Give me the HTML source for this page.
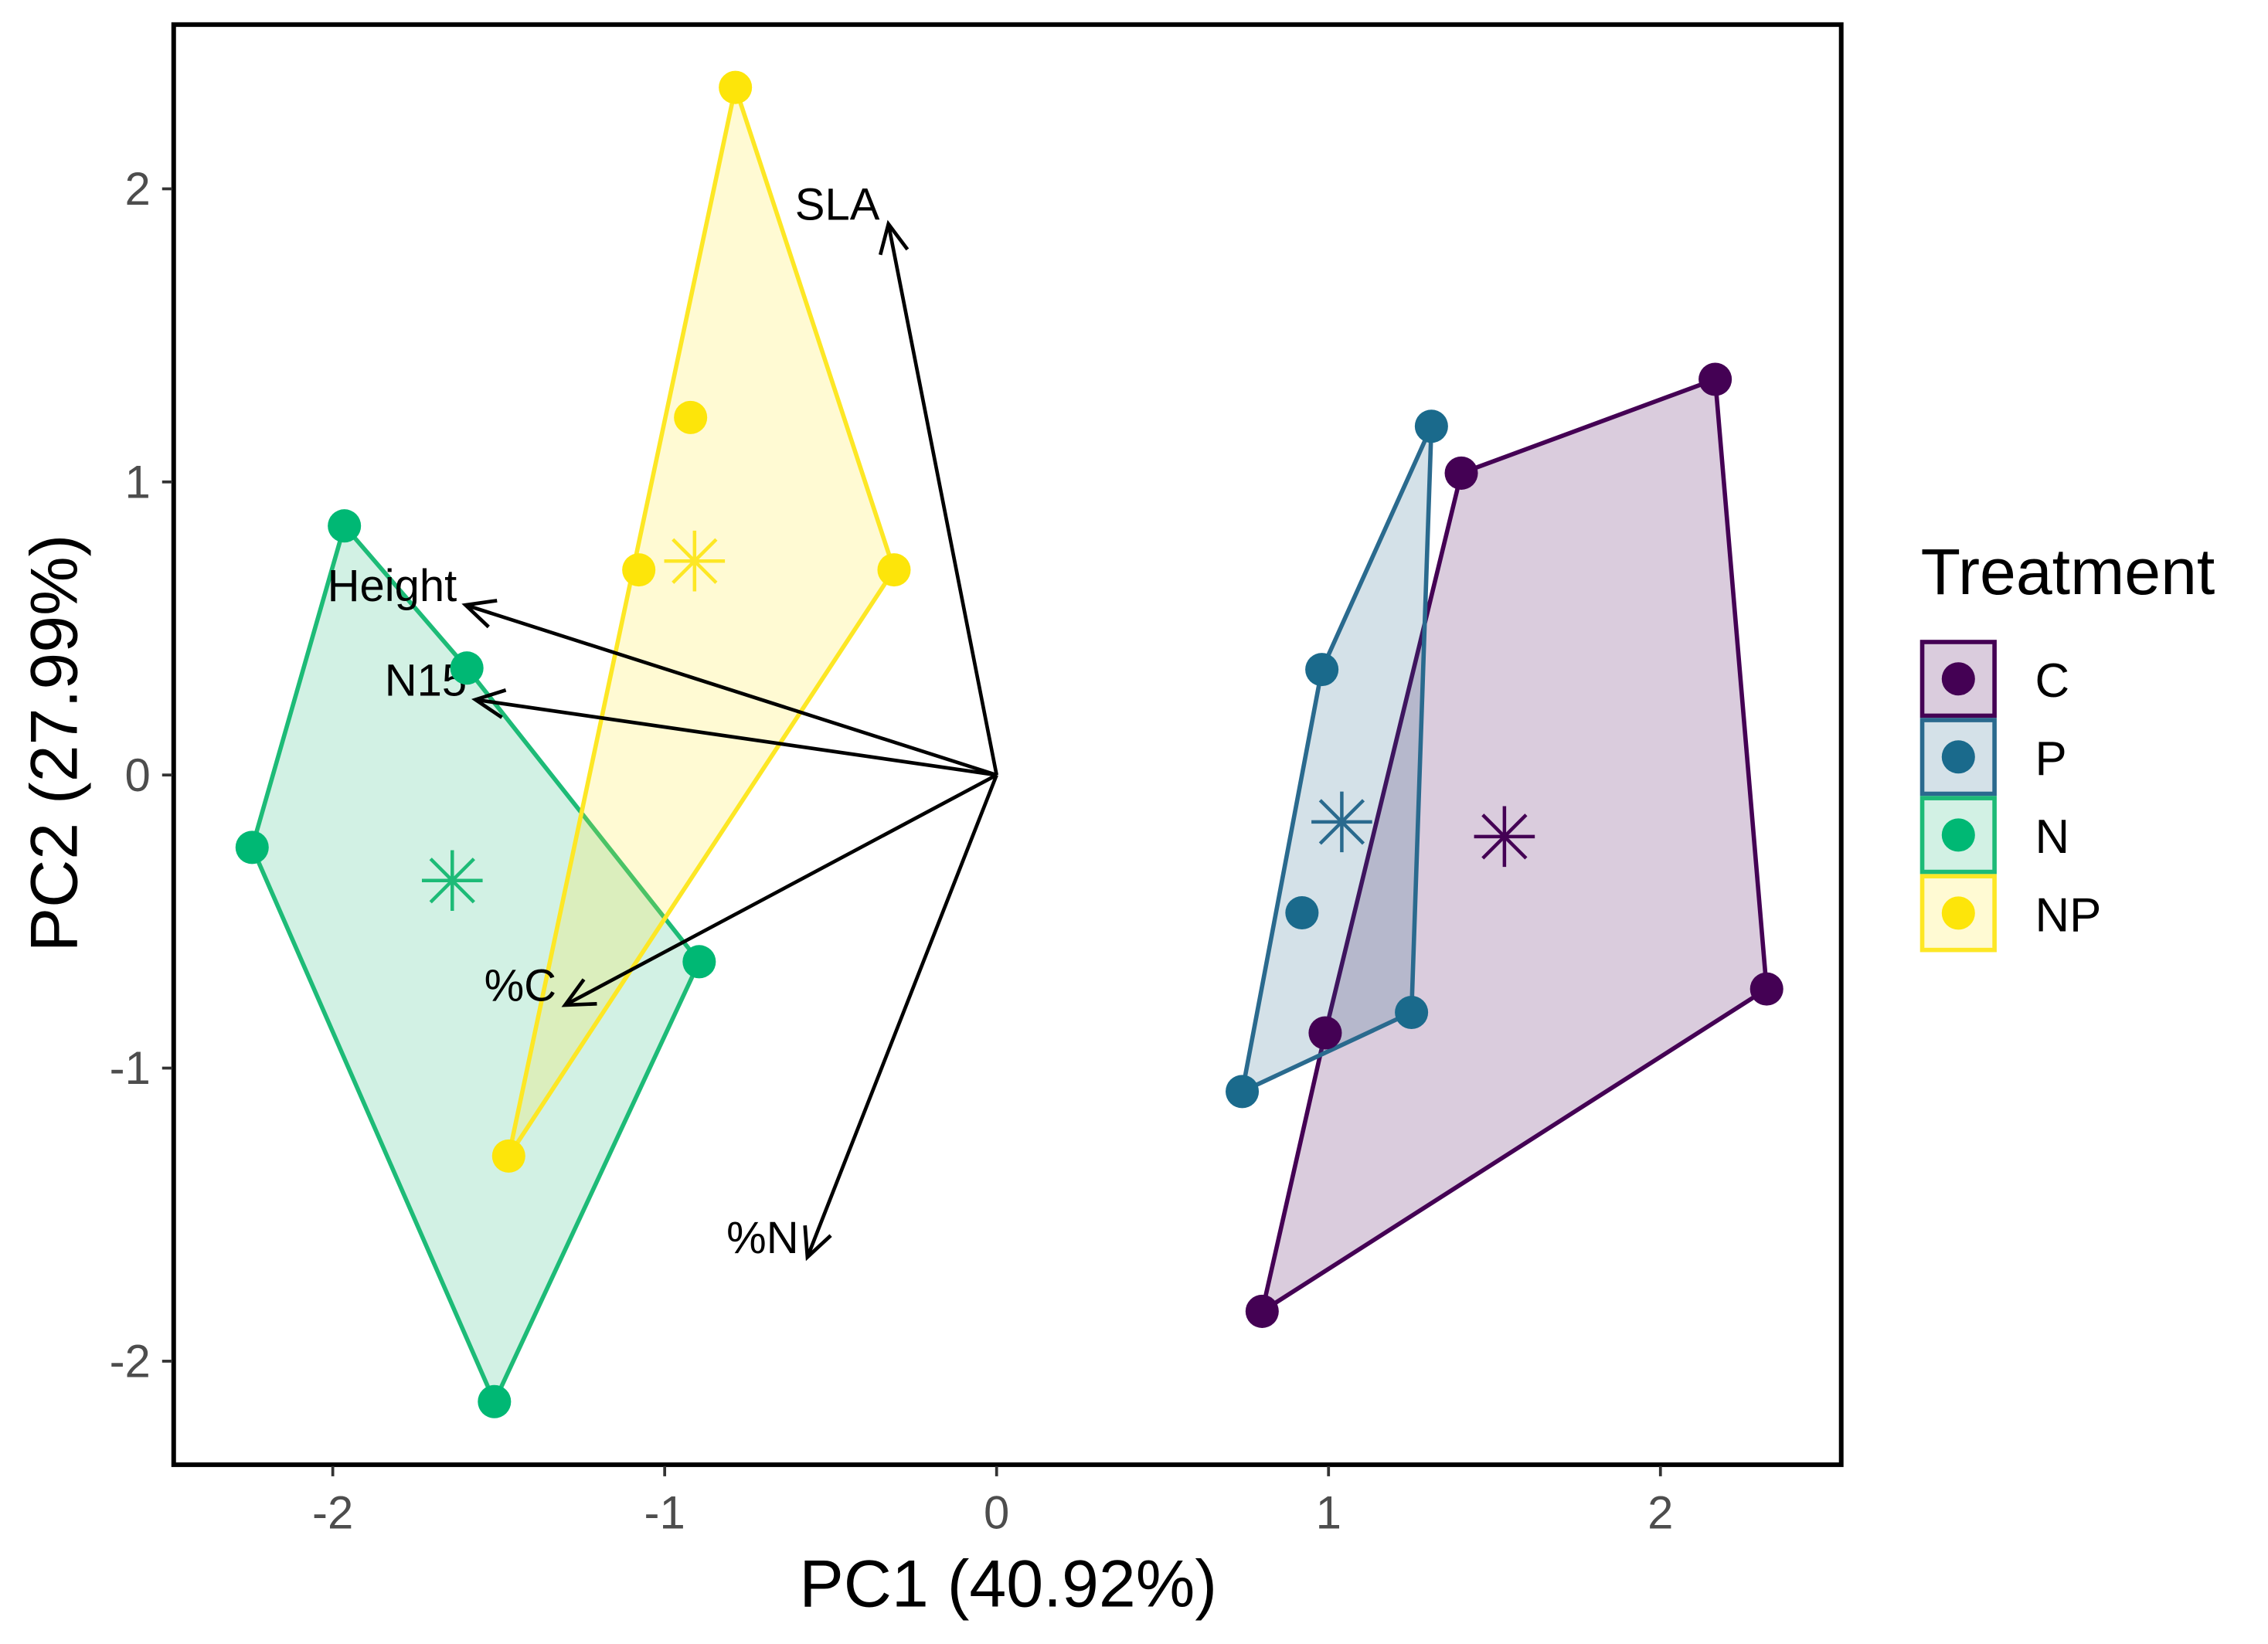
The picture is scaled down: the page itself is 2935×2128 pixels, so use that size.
<!DOCTYPE html>
<html><head><meta charset="utf-8"><style>
html,body{margin:0;padding:0;background:#fff;}
svg{display:block;}
text{font-family:"Liberation Sans",sans-serif;}
</style></head><body>
<svg id="chart" width="2935" height="2128" viewBox="0 0 1568 1137" xmlns="http://www.w3.org/2000/svg">
<rect x="0" y="0" width="1568" height="1137" fill="#fff"/>
<g id="hulls"></g>
<g id="arrows"></g>
<g id="points"></g>
<rect x="120" y="17" width="1153" height="996" fill="none" stroke="#000" stroke-width="3.2"/>
<g id="axes"></g>
<text x="697" y="1111" font-size="46" text-anchor="middle" fill="#000">PC1 (40.92%)</text>
<text transform="translate(53,514) rotate(-90)" font-size="46" text-anchor="middle" fill="#000">PC2 (27.99%)</text>
<g id="legend"></g>
</svg>
<script>
const groups = ["C","P","N","NP"];
const colors = ["#440154","#2A6A8E","#1DBB77","#FDE725"];
const ptColors = ["#440154","#1A6A8C","#00B874","#FDE50A"];
const pcx = {
  C: [2.165, 1.40, 2.32, 0.80, 0.99],
  P: [1.31, 0.98, 0.92, 1.25, 0.74],
  N: [-1.965, -1.596, -2.243, -0.896, -1.513],
  NP: [-0.787, -0.922, -1.078, -0.309, -1.47]
};
const pcy = {
  C: [1.35, 1.03, -0.73, -1.83, -0.88],
  P: [1.19, 0.36, -0.47, -0.81, -1.08],
  N: [0.85, 0.365, -0.247, -0.637, -2.138],
  NP: [2.346, 1.22, 0.70, 0.70, -1.30]
};
const centX = [1.53, 1.04, -1.64, -0.91];
const centY = [-0.21, -0.16, -0.36, 0.73];
const loadNames = ["SLA","Height","N15","%C","%N"];
const loadX = [-0.326, -1.60, -1.57, -1.30, -0.57];
const loadY = [1.88, 0.58, 0.257, -0.785, -1.645];
const xTicks = [-2,-1,0,1,2];
const yTicks = [-2,-1,0,1,2];

const X = v => 689 + 229.5*v;
const Y = v => 536 - 202.7*v;
const NS = "http://www.w3.org/2000/svg";
function mk(tag, attrs, parent){const e=document.createElementNS(NS,tag);for(const k in attrs)e.setAttribute(k,attrs[k]);parent.appendChild(e);return e;}

function hull(pts){
  pts = pts.slice().sort((a,b)=>a[0]-b[0]||a[1]-b[1]);
  const cr=(o,a,b)=>(a[0]-o[0])*(b[1]-o[1])-(a[1]-o[1])*(b[0]-o[0]);
  const lo=[],up=[];
  for(const p of pts){while(lo.length>=2&&cr(lo[lo.length-2],lo[lo.length-1],p)<=0)lo.pop();lo.push(p);}
  for(const p of pts.slice().reverse()){while(up.length>=2&&cr(up[up.length-2],up[up.length-1],p)<=0)up.pop();up.push(p);}
  return lo.slice(0,-1).concat(up.slice(0,-1));
}

const gH=document.getElementById('hulls'), gA=document.getElementById('arrows'), gP=document.getElementById('points');
groups.forEach((g,i)=>{
  const pts=pcx[g].map((v,j)=>[X(v),Y(pcy[g][j])]);
  const h=hull(pts);
  const poly=mk('polygon',{points:h.map(p=>p.join(',')).join(' '),fill:colors[i],'fill-opacity':0.2,stroke:colors[i],'stroke-width':3,'stroke-linejoin':'round'},gH);
  
  
});
loadNames.forEach((n,i)=>{
  const x0=X(0),y0=Y(0),x1=X(loadX[i]),y1=Y(loadY[i]);
  const ln=mk('line',{x1:x0,y1:y0,x2:x1,y2:y1,stroke:'#000','stroke-width':2.5},gA);
  
  
  const ang=Math.atan2(y1-y0,x1-x0), L=22, a=0.45;
  mk('polyline',{points:`${x1-L*Math.cos(ang-a)},${y1-L*Math.sin(ang-a)} ${x1},${y1} ${x1-L*Math.cos(ang+a)},${y1-L*Math.sin(ang+a)}`,fill:'none',stroke:'#000','stroke-width':2.5},gA);
  const t=mk('text',{x:x1-6,y:y1-11,'font-size':31,'text-anchor':'end','dominant-baseline':'middle',fill:'#000'},gA);
  t.textContent=n;
  
  
});
groups.forEach((g,i)=>{
  pcx[g].forEach((v,j)=>{
    const c=mk('circle',{cx:X(v),cy:Y(pcy[g][j]),r:11.5,fill:ptColors[i]},gP);
    
    
  });
  const cx=X(centX[i]), cy=Y(centY[i]), s=21, d=15;
  const st=mk('g',{stroke:colors[i],'stroke-width':2.4},gP);
  
  
  mk('line',{x1:cx-s,y1:cy,x2:cx+s,y2:cy},st);
  mk('line',{x1:cx,y1:cy-s,x2:cx,y2:cy+s},st);
  mk('line',{x1:cx-d,y1:cy-d,x2:cx+d,y2:cy+d},st);
  mk('line',{x1:cx-d,y1:cy+d,x2:cx+d,y2:cy-d},st);
});
const gX=document.getElementById('axes');
xTicks.forEach(v=>{
  mk('line',{x1:X(v),y1:1014,x2:X(v),y2:1021,stroke:'#333','stroke-width':2},gX);
  const t=mk('text',{x:X(v),y:1057,'font-size':32,'text-anchor':'middle',fill:'#4d4d4d'},gX);
  t.textContent=v;
  
  
});
yTicks.forEach(v=>{
  mk('line',{x1:112,y1:Y(v),x2:119,y2:Y(v),stroke:'#333','stroke-width':2},gX);
  const t=mk('text',{x:104,y:Y(v)+11,'font-size':32,'text-anchor':'end',fill:'#4d4d4d'},gX);
  t.textContent=v;
  
  
});
const gL=document.getElementById('legend');
const tt=mk('text',{x:1328,y:411,'font-size':45,fill:'#000'},gL);
tt.textContent='Treatment';


groups.forEach((g,i)=>{
  const y0=443+i*54;
  const e=mk('g',{},gL);
  
  
  mk('rect',{x:1329,y:y0+1,width:50,height:51,fill:colors[i],'fill-opacity':0.2,stroke:colors[i],'stroke-width':3},e);
  mk('circle',{cx:1354,cy:y0+26.5,r:11.5,fill:ptColors[i]},e);
  const t=mk('text',{x:1407,y:y0+39,'font-size':33,fill:'#000'},e);
  t.textContent=g;
});
</script>
</body></html>
